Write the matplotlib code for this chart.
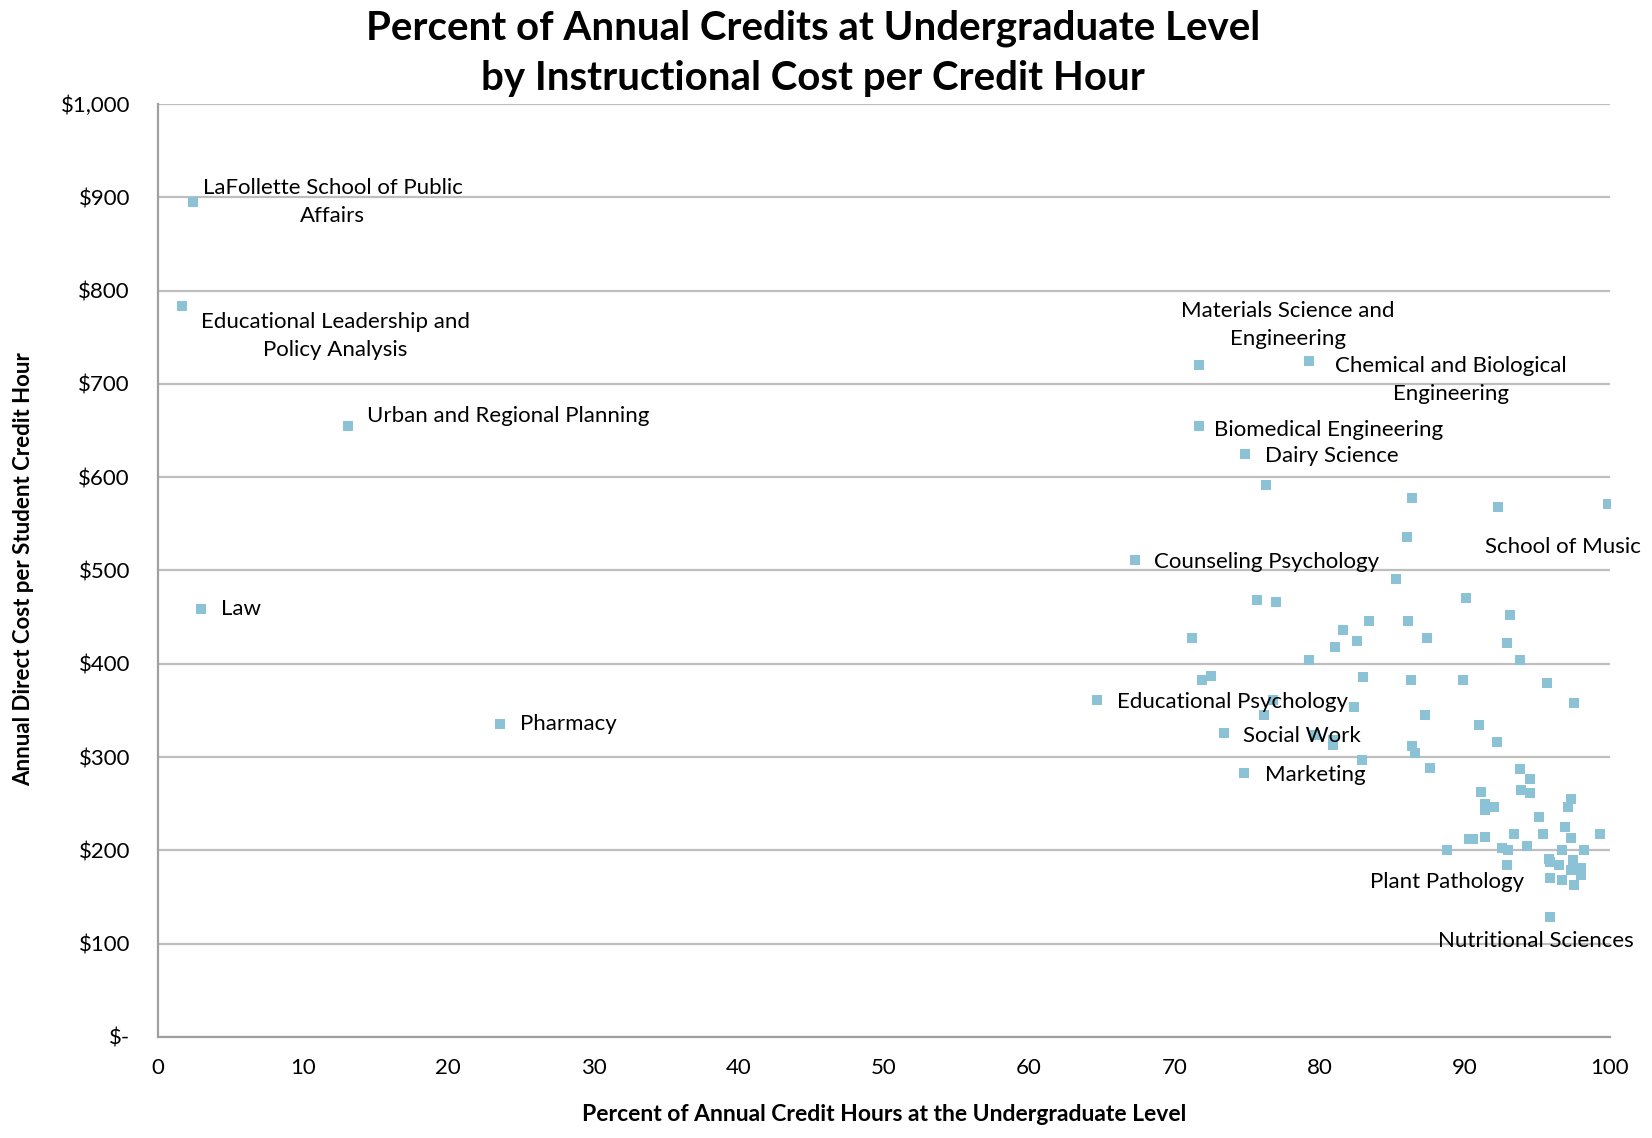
import matplotlib
matplotlib.use("Agg")
import matplotlib.pyplot as plt
from matplotlib.ticker import FuncFormatter

plt.rcParams['font.family'] = ['Lato', 'DejaVu Sans']

# labeled departments: name, % of credit hours at UG level, cost per credit hour
labeled_names = [
    "LaFollette School of Public\nAffairs",
    "Educational Leadership and\nPolicy Analysis",
    "Urban and Regional Planning",
    "Law",
    "Pharmacy",
    "Materials Science and\nEngineering",
    "Chemical and Biological\nEngineering",
    "Biomedical Engineering",
    "Dairy Science",
    "School of Music",
    "Counseling Psychology",
    "Educational Psychology",
    "Social Work",
    "Marketing",
    "Plant Pathology",
    "Nutritional Sciences",
]
labeled_pct = [2.4, 1.7, 13.1, 3.0, 23.6, 71.7, 79.3, 71.7, 74.9, 99.9,
               67.3, 64.7, 73.4, 74.8, 88.8, 95.9]
labeled_cost = [895, 783, 655, 459, 335, 720, 725, 655, 625, 571,
                511, 361, 326, 283, 200, 129]

# the rest of the departments (no label)
other_pct = [76.3, 86.4, 92.3, 86.0, 85.3, 75.7, 77.0, 90.1, 83.4, 86.1,
             93.1, 81.6, 87.4, 71.2, 82.6, 92.9, 81.1, 79.3, 93.8, 83.0,
             72.5, 71.9, 86.3, 89.9, 95.7, 76.8, 97.5, 82.4, 76.2, 87.3,
             91.0, 79.7, 80.9, 80.9, 92.2, 86.4, 86.6, 82.9, 87.6, 93.8,
             94.5, 93.9, 94.5, 91.1, 97.3, 91.4, 92.0, 91.4, 97.1, 95.1,
             96.9, 95.4, 93.4, 99.3, 90.3, 90.6, 91.4, 97.3, 92.6, 93.0,
             94.3, 96.7, 98.2, 95.8, 95.9, 96.5, 97.45, 97.3, 98.0, 98.0,
             92.9, 95.9, 96.7, 97.5]
other_cost = [592, 578, 568, 536, 491, 468, 466, 470, 446, 446,
              452, 436, 428, 428, 424, 422, 418, 404, 404, 386,
              387, 383, 383, 383, 379, 361, 358, 354, 345, 345,
              334, 324, 318, 313, 316, 312, 304, 297, 288, 287,
              277, 265, 262, 263, 255, 250, 247, 243, 247, 236,
              225, 218, 217, 218, 212, 212, 214, 213, 202, 200,
              205, 200, 200, 191, 188, 184, 190, 179, 181, 174,
              184, 170, 168, 163]

# label offsets in points (dx, dy, horizontal alignment)
label_offsets = {
    "LaFollette School of Public\nAffairs": (101, 0, 'center'),
    "Educational Leadership and\nPolicy Analysis": (110, -21, 'center'),
    "Urban and Regional Planning": (14, 7, 'left'),
    "Law": (14, 0, 'left'),
    "Pharmacy": (14, 0, 'left'),
    "Materials Science and\nEngineering": (64, 29, 'center'),
    "Chemical and Biological\nEngineering": (102, -14, 'center'),
    "Biomedical Engineering": (11, -3, 'left'),
    "Dairy Science": (14, -1.5, 'left'),
    "School of Music": (-33, -31, 'center'),
    "Counseling Psychology": (14, -1, 'left'),
    "Educational Psychology": (14, -1.5, 'left'),
    "Social Work": (14, -2.3, 'left'),
    "Marketing": (15, -1.5, 'left'),
    "Plant Pathology": (0, -23, 'center'),
    "Nutritional Sciences": (-10.6, -17.5, 'center'),
}

marker_color = '#8CC2D5'

fig = plt.figure(figsize=(16.52, 11.38), dpi=100)
ax = fig.add_axes([0.0955, 0.0888, 0.879, 0.8198])

ax.scatter(other_pct, other_cost, marker='s', s=60, color=marker_color,
           linewidths=0, zorder=3)
ax.scatter(labeled_pct, labeled_cost, marker='s', s=60, color=marker_color,
           linewidths=0, zorder=3)

for name, px, py in zip(labeled_names, labeled_pct, labeled_cost):
    dx, dy, ha = label_offsets[name]
    ax.annotate(name, (px, py), xytext=(dx, dy), textcoords='offset points',
                ha=ha, va='center', fontsize=16, color='black',
                linespacing=1.5, zorder=4)

ax.set_xlim(0, 100)
ax.set_ylim(0, 1000)
ax.set_xticks(range(0, 101, 10))
ax.set_yticks(range(0, 1001, 100))


def dollar(v, pos):
    if v == 0:
        return '$-'
    return '${:,.0f}'.format(v)


ax.yaxis.set_major_formatter(FuncFormatter(dollar))
ax.tick_params(length=0, labelsize=16)
ax.tick_params(axis='y', pad=20)
ax.tick_params(axis='x', pad=15)
ax.yaxis.grid(True, color='#BEBEBE', linewidth=1.6)
ax.set_axisbelow(True)
for side in ['top', 'right']:
    ax.spines[side].set_visible(False)
for side in ['left', 'bottom']:
    ax.spines[side].set_color('#A0A0A0')
    ax.spines[side].set_linewidth(1.6)

fig.text(0.492, 0.953, 'Percent of Annual Credits at Undergraduate Level\n'
         'by Instructional Cost per Credit Hour',
         ha='center', va='center', fontsize=29, fontweight='bold',
         linespacing=1.45)
fig.text(0.014, 0.5, 'Annual Direct Cost per Student Credit Hour',
         rotation=90, ha='center', va='center', fontsize=16, fontweight='bold')
fig.text(0.535, 0.011, 'Percent of Annual Credit Hours at the Undergraduate Level',
         ha='center', va='bottom', fontsize=16.5, fontweight='bold')

fig.savefig('out.png', dpi=100)
